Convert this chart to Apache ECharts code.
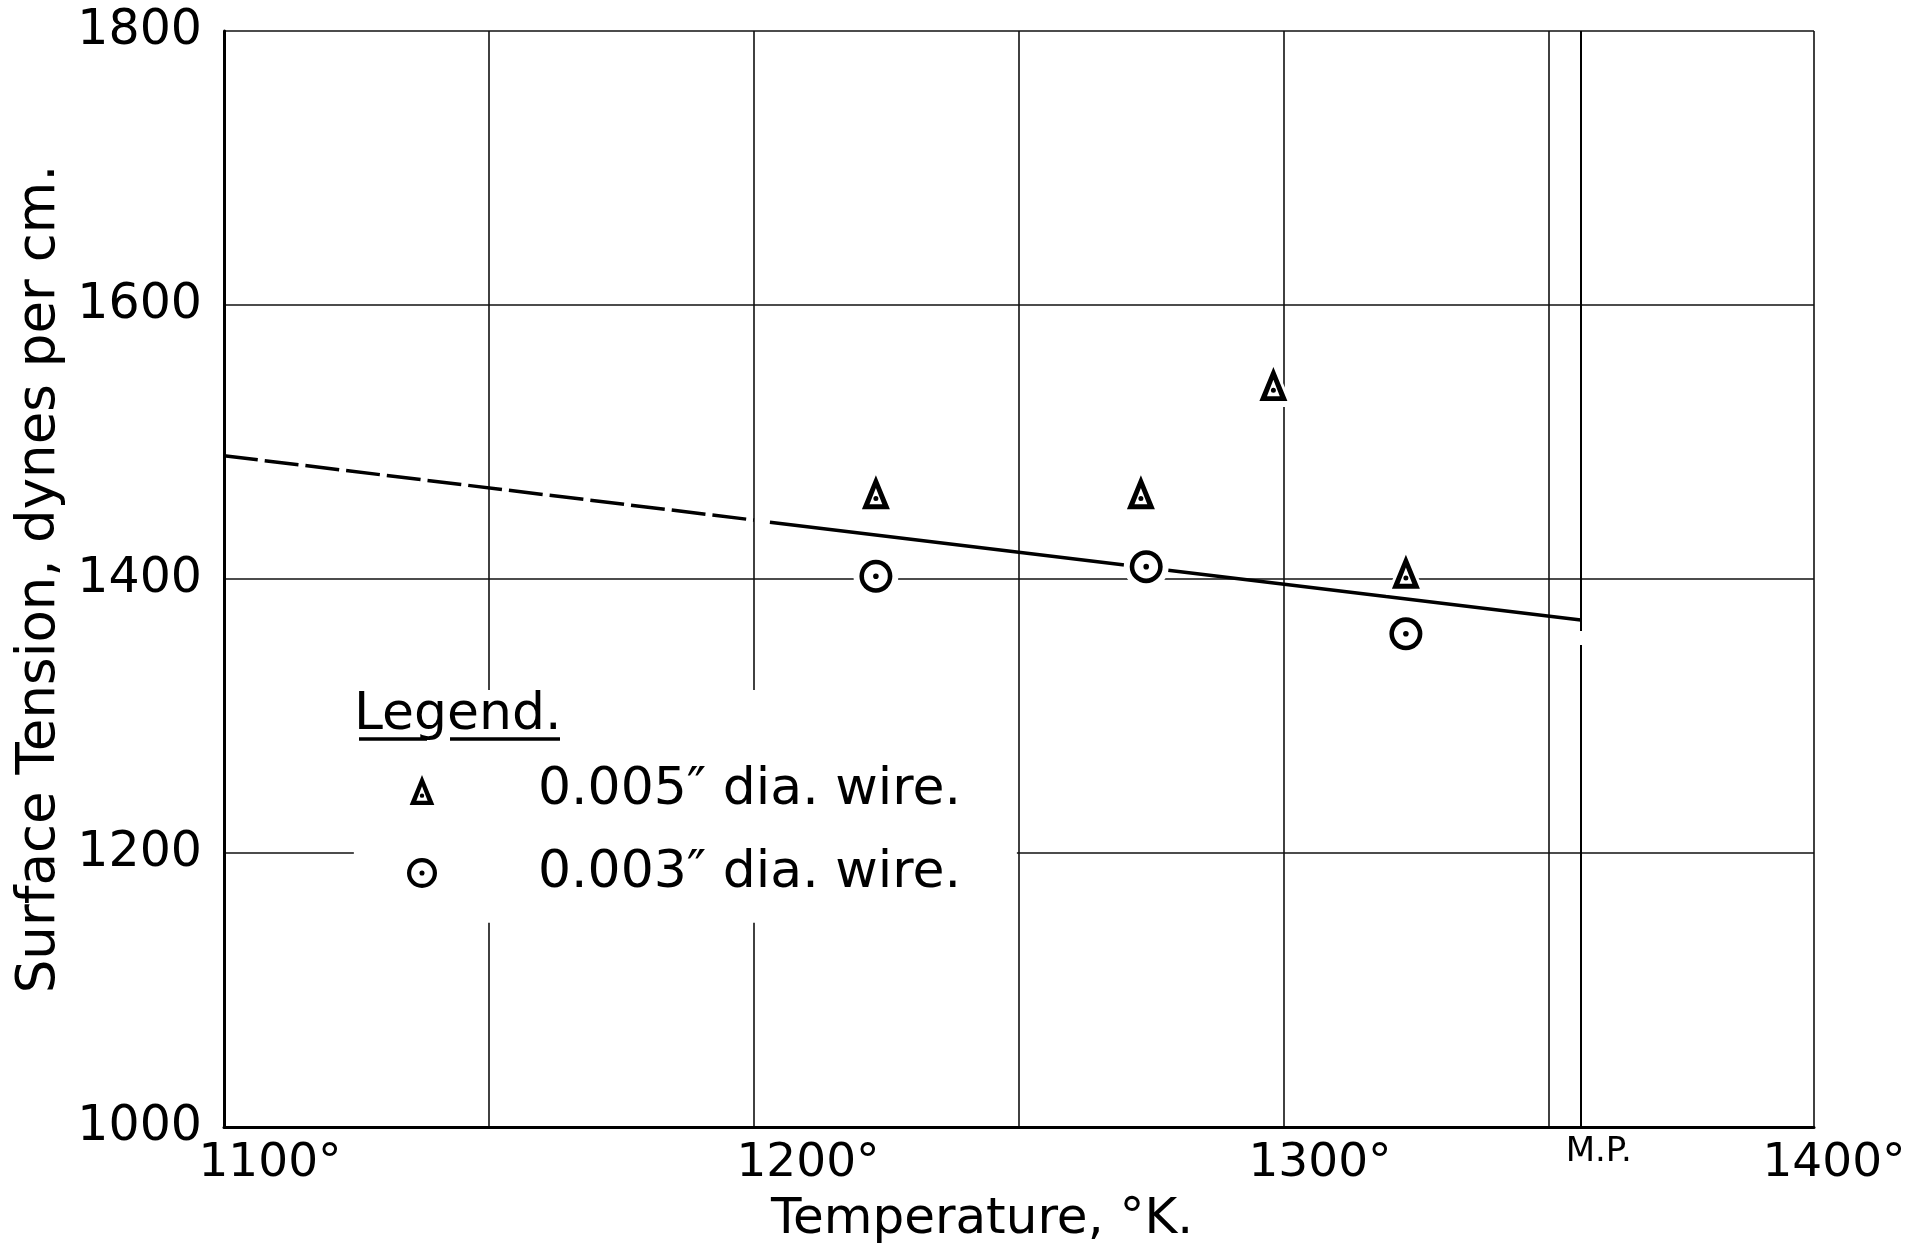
<!DOCTYPE html>
<html>
<head>
<meta charset="utf-8">
<script src="https://cdn.jsdelivr.net/npm/echarts@6/dist/echarts.min.js"></script>
<style>html,body{margin:0;padding:0;background:#fff}#c{width:1916px;height:1253px}</style>
</head>
<body>
<div id="c"></div>
<script>
// ---- data ----
const xTickValues = [1100, 1200, 1300, 1400];
const xTickLabels = ['1100°', '1200°', '1300°', '1400°'];
const yTickValues = [1000, 1200, 1400, 1600, 1800];
const yTickLabels = ['1000', '1200', '1400', '1600', '1800'];

const seriesNames = ['0.005″ dia. wire.', '0.003″ dia. wire.'];
const triTemp = [1223, 1273, 1298, 1323];
const triTension = [1459, 1459, 1538, 1401];
const circTemp = [1223, 1274, 1323];
const circTension = [1402, 1409, 1360];

const fitDashedTemp = [1100, 1200];
const fitDashedTension = [1490, 1443];
const fitSolidTemp = [1203, 1356];
const fitSolidTension = [1441.5, 1370];

const meltingPointTemp = 1356;
const meltingPointLabel = 'M.P.';
const legendTitle = 'Legend.';

// ---- helpers ----
const zip = (a, b) => a.map((v, i) => [v, b[i]]);
const FONT = '"DejaVu Sans", sans-serif';
const INK = '#000';

// hand-lettered tick labels sit a little right of their grid lines (style only)
const xLabelRich = {
  k0: {fontFamily: FONT, fontSize: 47, color: INK, padding: [0, 0, 0, 92]},
  k1: {fontFamily: FONT, fontSize: 47, color: INK, padding: [0, 0, 0, 108]},
  k2: {fontFamily: FONT, fontSize: 47, color: INK, padding: [0, 0, 0, 72]},
  k3: {fontFamily: FONT, fontSize: 47, color: INK, padding: [0, 0, 0, 40]}
};

const TRI_PATH = 'path://M14 0L28 34L0 34Z M14 12.8L7.6 29.2L20.4 29.2Z M11.5 23.4A2.5 2.5 0 1 1 16.5 23.4A2.5 2.5 0 1 1 11.5 23.4Z';
const TRI_HALO = 'path://M14 0L28 34L0 34Z';
const RING_PATH = 'path://M0 16.5A16.5 16.5 0 1 1 33 16.5A16.5 16.5 0 1 1 0 16.5Z M4.6 16.5A11.9 11.9 0 1 0 28.4 16.5A11.9 11.9 0 1 0 4.6 16.5Z M13.7 16.5A2.8 2.8 0 1 1 19.3 16.5A2.8 2.8 0 1 1 13.7 16.5Z';

const chart = echarts.init(document.getElementById('c'), null, {renderer: 'canvas'});

const option = {
  animation: false,
  backgroundColor: '#fff',
  grid: {left: 224, top: 31, right: 102, bottom: 126, containLabel: false, outerBoundsMode: 'none'},
  xAxis: {
    type: 'value', min: 1100, max: 1400, interval: 50,
    name: 'Temperature, °K.', nameLocation: 'middle', nameGap: 68,
    nameTextStyle: {fontFamily: FONT, fontSize: 50, color: INK, padding: [0, 74, 0, 0]},
    axisLine: {show: true, lineStyle: {color: INK, width: 3}},
    axisTick: {show: false},
    axisLabel: {
      show: true, margin: 13, fontFamily: FONT, fontSize: 47, color: INK,
      showMinLabel: true, showMaxLabel: true, rich: xLabelRich,
      formatter: v => { const i = xTickValues.indexOf(v); return i >= 0 ? '{k' + i + '|' + xTickLabels[i] + '}' : ''; }
    },
    splitLine: {show: true, lineStyle: {color: '#111', width: 1.6}}
  },
  yAxis: {
    type: 'value', min: 1000, max: 1800, interval: 200,
    name: 'Surface Tension, dynes per cm.', nameLocation: 'middle', nameRotate: 90, nameGap: 138,
    nameTextStyle: {fontFamily: FONT, fontSize: 53, color: INK},
    axisLine: {show: true, lineStyle: {color: INK, width: 3}},
    axisTick: {show: false},
    axisLabel: {
      show: true, margin: 22, fontFamily: FONT, fontSize: 49, color: INK,
      formatter: v => { const i = yTickValues.indexOf(v); return i >= 0 ? yTickLabels[i] : ''; }
    },
    splitLine: {show: true, lineStyle: {color: '#111', width: 1.6}}
  },
  legend: {
    data: seriesNames, orient: 'vertical', left: 407, top: 762, padding: 0,
    itemWidth: 30, itemHeight: 30, itemGap: 27, selectedMode: false,
    textStyle: {fontFamily: FONT, fontSize: 52, lineHeight: 56, color: INK, padding: [0, 0, 0, 96]}
  },
  graphic: [
    {type: 'text', left: 354, top: 689, z: 20, silent: true,
     style: {text: legendTitle, fontFamily: FONT, fontSize: 52, fill: INK}},
    {type: 'line', z: 20, silent: true, shape: {x1: 359, y1: 739, x2: 427, y2: 739}, style: {stroke: INK, lineWidth: 3.5}},
    {type: 'line', z: 20, silent: true, shape: {x1: 450, y1: 739, x2: 560, y2: 739}, style: {stroke: INK, lineWidth: 3.5}}
  ],
  series: [
    {
      type: 'line', name: 'fit-extrapolated', silent: true, z: 2,
      data: zip(fitDashedTemp, fitDashedTension), symbol: 'none',
      lineStyle: {color: INK, width: 3.5, type: [34, 7]}
    },
    {
      type: 'line', name: 'fit', silent: true, z: 2,
      data: zip(fitSolidTemp, fitSolidTension), symbol: 'none',
      lineStyle: {color: INK, width: 3.5},
      markLine: {
        silent: true, symbol: ['none', 'none'], animation: false,
        lineStyle: {color: INK, width: 2, type: [600, 14]},
        label: {show: true, position: 'end', formatter: meltingPointLabel, distance: 8,
                fontFamily: FONT, fontSize: 34, color: INK, padding: [0, 0, 0, 36]},
        data: [[{coord: [meltingPointTemp, 1800]}, {coord: [meltingPointTemp, 1000]}]]
      },
      markArea: {
        silent: true, itemStyle: {color: '#fff', opacity: 1},
        data: [[{xAxis: 1124.5, yAxis: 1149}, {xAxis: 1249.6, yAxis: 1319}]]
      }
    },
    {
      type: 'scatter', name: 'tri-halo', silent: true, z: 4,
      data: zip(triTemp, triTension), symbol: TRI_HALO, symbolSize: [40, 46],
      symbolOffset: [0, -6],
      itemStyle: {color: '#fff', opacity: 1}
    },
    {
      type: 'scatter', name: 'circ-halo', silent: true, z: 4,
      data: zip(circTemp, circTension), symbol: 'circle', symbolSize: 45,
      itemStyle: {color: '#fff', opacity: 1}
    },
    {
      type: 'scatter', name: seriesNames[0], silent: true, z: 5,
      data: zip(triTemp, triTension), symbol: TRI_PATH, symbolSize: [28, 34],
      symbolOffset: [0, -6],
      itemStyle: {color: INK, opacity: 1, borderWidth: 0}
    },
    {
      type: 'scatter', name: seriesNames[1], silent: true, z: 5,
      data: zip(circTemp, circTension), symbol: RING_PATH, symbolSize: 33,
      itemStyle: {color: INK, opacity: 1, borderWidth: 0}
    }
  ]
};
chart.setOption(option);
</script>
</body>
</html>
